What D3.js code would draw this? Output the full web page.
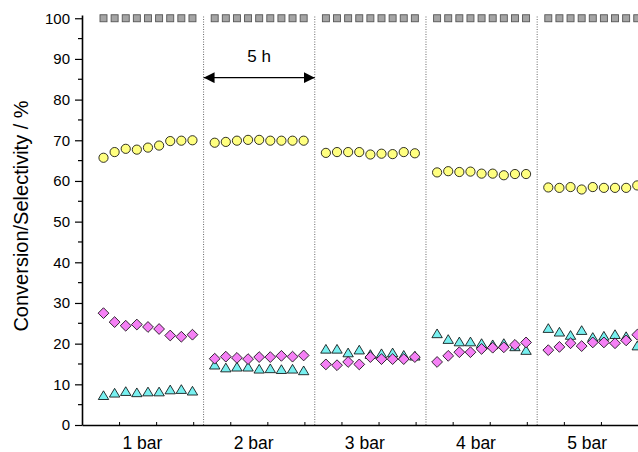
<!DOCTYPE html>
<html>
<head>
<meta charset="utf-8">
<script src="https://cdn.jsdelivr.net/npm/d3@7"></script>
<style>
  body { margin: 0; background: #fff; }
  svg { display: block; font-family: "Liberation Sans", Arial, sans-serif; }
</style>
</head>
<body>
<div id="chart"></div>
<script>
// Pressure runs, each 5 h (300 min) long
const pressures = ['1 bar', '2 bar', '3 bar', '4 bar', '5 bar'];
const runStart = [28, 328, 628, 928, 1228];           // min
const sampleTimes = [30, 60, 90, 120, 150, 180, 210, 240, 270]; // min into each run

// Values per run (9 samples each), in %
const conversion = [
    [100, 100, 100, 100, 100, 100, 100, 100, 100],
    [100, 100, 100, 100, 100, 100, 100, 100, 100],
    [100, 100, 100, 100, 100, 100, 100, 100, 100],
    [100, 100, 100, 100, 100, 100, 100, 100, 100],
    [100, 100, 100, 100, 100, 100, 100, 100, 100]
];
const selCircle = [
    [65.7, 67.1, 67.9, 67.7, 68.2, 68.7, 69.8, 69.9, 70.0],
    [69.4, 69.6, 69.9, 70.1, 70.1, 69.9, 69.9, 69.9, 69.9],
    [66.9, 67.1, 67.1, 67.1, 66.5, 66.7, 66.6, 67.1, 66.8],
    [62.1, 62.4, 62.2, 62.3, 61.8, 61.8, 61.4, 61.7, 61.7],
    [58.4, 58.3, 58.5, 57.9, 58.5, 58.3, 58.3, 58.3, 58.9]
];
const selDiamond = [
    [27.5, 25.3, 24.4, 24.7, 24.1, 23.6, 22.0, 21.7, 22.2],
    [16.3, 16.8, 16.5, 16.2, 16.7, 16.7, 17.0, 16.8, 17.1],
    [14.9, 14.7, 15.5, 14.9, 16.7, 16.2, 16.2, 16.2, 16.7],
    [15.5, 17.0, 17.9, 17.9, 18.7, 19.0, 19.1, 19.7, 20.3],
    [18.4, 19.2, 20.1, 19.4, 20.3, 20.3, 20.1, 20.8, 22.2]
];
const selTriangle = [
    [7.3, 7.9, 8.3, 8.0, 8.2, 8.2, 8.7, 8.8, 8.4],
    [14.8, 14.1, 14.3, 14.3, 13.8, 13.9, 13.7, 13.8, 13.4],
    [18.7, 18.7, 17.8, 18.5, 17.4, 17.6, 17.8, 17.2, 17.0],
    [22.5, 21.1, 20.5, 20.5, 20.1, 19.8, 20.1, 19.3, 18.4],
    [23.8, 22.9, 22.1, 23.3, 21.6, 21.9, 22.3, 21.8, 19.5]
];
const yTicks = [0, 10, 20, 30, 40, 50, 60, 70, 80, 90, 100];

const width = 638, height = 452;
const margin = { top: 15, right: 0, bottom: 27, left: 82 };

// flatten a series to {t, v}
function points(series) {
    const out = [];
    series.forEach((run, k) => run.forEach((v, i) => out.push({ t: runStart[k] + sampleTimes[i], v: v })));
    return out;
}

const svg = d3.select('#chart')
    .append('svg')
    .attr('width', width)
    .attr('height', height);

const x = d3.scaleLinear().domain([0, 1500]).range([margin.left, width - margin.right]);
const y = d3.scaleLinear().domain([0, 100.8]).range([height - margin.bottom, margin.top]);

// run separators
svg.append('g')
    .selectAll('line')
    .data(runStart.slice(1))
    .join('line')
    .attr('x1', d => x(d)).attr('x2', d => x(d))
    .attr('y1', y(0)).attr('y2', y(100.8))
    .attr('stroke', '#444')
    .attr('stroke-width', 0.8)
    .attr('stroke-dasharray', '1,1.5');

// y axis
const yAxis = svg.append('g')
    .attr('transform', `translate(${margin.left},0)`)
    .call(d3.axisLeft(y).tickValues(yTicks).tickSize(7).tickSizeOuter(0).tickPadding(5));
yAxis.select('.domain').attr('stroke-width', 1.6);
yAxis.selectAll('.tick line').attr('stroke-width', 1.2);
yAxis.selectAll('text').style('font-size', '15px').attr('fill', '#000');
yAxis.append('g')
    .selectAll('line')
    .data(yTicks.slice(0, -1).map(d => d + 5))
    .join('line')
    .attr('x1', -4).attr('x2', 0)
    .attr('y1', d => y(d)).attr('y2', d => y(d))
    .attr('stroke', '#000')
    .attr('stroke-width', 1.2);

// x axis (unlabelled ticks, inward)
const xAxis = svg.append('g')
    .attr('transform', `translate(0,${y(0)})`)
    .call(d3.axisBottom(x).tickValues(d3.range(100, 1501, 100)).tickSizeInner(-3).tickSizeOuter(0).tickFormat(''));
xAxis.select('.domain').attr('stroke-width', 1.6);
xAxis.selectAll('.tick line').attr('stroke-width', 1);

// run labels
svg.append('g')
    .selectAll('text')
    .data(pressures)
    .join('text')
    .attr('x', (d, k) => x(runStart[k] + 135))
    .attr('y', height - 3)
    .attr('text-anchor', 'middle')
    .style('font-size', '17.5px')
    .text(d => d);

// y title
svg.append('text')
    .attr('transform', 'translate(28,216) rotate(-90)')
    .attr('text-anchor', 'middle')
    .style('font-size', '20px')
    .text('Conversion/Selectivity / %');

// 5 h arrow
const defs = svg.append('defs');
defs.append('marker')
    .attr('id', 'head')
    .attr('viewBox', '0 0 10 10')
    .attr('refX', 10).attr('refY', 5)
    .attr('markerWidth', 11).attr('markerHeight', 11)
    .attr('markerUnits', 'userSpaceOnUse')
    .attr('orient', 'auto-start-reverse')
    .append('path')
    .attr('d', 'M0,0L10,5L0,10Z')
    .attr('fill', '#000');
svg.append('line')
    .attr('x1', x(runStart[1])).attr('x2', x(runStart[2]))
    .attr('y1', y(85.4)).attr('y2', y(85.4))
    .attr('stroke', '#000')
    .attr('stroke-width', 1.2)
    .attr('marker-start', 'url(#head)')
    .attr('marker-end', 'url(#head)');
svg.append('text')
    .attr('x', (x(runStart[1]) + x(runStart[2])) / 2)
    .attr('y', y(89.3))
    .attr('text-anchor', 'middle')
    .style('font-size', '17px')
    .text('5 h');

// markers
const plot = svg.append('g');
plot.selectAll('rect')
    .data(points(conversion))
    .join('rect')
    .attr('x', d => x(d.t) - 3.5).attr('y', d => y(d.v) - 3.5)
    .attr('width', 7).attr('height', 7)
    .attr('fill', '#a5a5a5')
    .attr('stroke', '#555')
    .attr('stroke-width', 0.9);

plot.selectAll('circle')
    .data(points(selCircle))
    .join('circle')
    .attr('cx', d => x(d.t)).attr('cy', d => y(d.v))
    .attr('r', 4.6)
    .attr('fill', '#ffff80')
    .attr('stroke', '#000')
    .attr('stroke-width', 0.8);

plot.selectAll('path.tri')
    .data(points(selTriangle))
    .join('path')
    .attr('class', 'tri')
    .attr('d', 'M0,-4.5L5.2,4.2L-5.2,4.2Z')
    .attr('transform', d => `translate(${x(d.t)},${y(d.v)})`)
    .attr('fill', '#78f0f0')
    .attr('stroke', '#000')
    .attr('stroke-width', 0.8);

plot.selectAll('path.dia')
    .data(points(selDiamond))
    .join('path')
    .attr('class', 'dia')
    .attr('d', 'M0,-5.4L5.4,0L0,5.4L-5.4,0Z')
    .attr('transform', d => `translate(${x(d.t)},${y(d.v)})`)
    .attr('fill', '#f580f5')
    .attr('stroke', '#000')
    .attr('stroke-width', 0.8);
</script>
</body>
</html>
